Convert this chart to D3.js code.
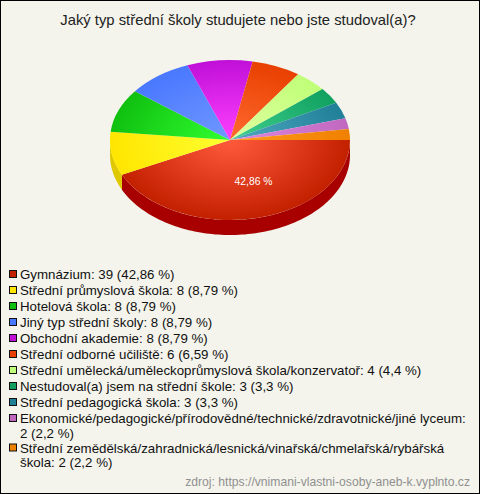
<!DOCTYPE html>
<html><head><meta charset="utf-8">
<script src="https://cdnjs.cloudflare.com/ajax/libs/d3/7.8.5/d3.min.js"></script>
<style>html,body{margin:0;padding:0;background:#f4f4ec}svg{display:block}text{font-family:"Liberation Sans",Arial,sans-serif}</style>
</head><body><div id="c"></div>
<script>
const title = "Jaký typ střední školy studujete nebo jste studoval(a)?";
const categories = ["Gymnázium","Střední průmyslová škola","Hotelová škola","Jiný typ střední školy","Obchodní akademie","Střední odborné učiliště","Střední umělecká/uměleckoprůmyslová škola/konzervatoř","Nestudoval(a) jsem na střední škole","Střední pedagogická škola","Ekonomické/pedagogické/přírodovědné/technické/zdravotnické/jiné lyceum","Střední zemědělská/zahradnická/lesnická/vinařská/chmelařská/rybářská škola"];
const values = [39,8,8,8,8,6,4,3,3,2,2];
const percents = ["42,86","8,79","8,79","8,79","8,79","6,59","4,4","3,3","3,3","2,2","2,2"];
const colors = ["#c32000","#ffe600","#10c010","#4a78ff","#c010d8","#e84000","#c0ff78","#10a060","#208098","#c068c0","#f08000"];
const lightColors = ["#ff5a3c","#ffff30","#30ff30","#7098ff","#ff40ff","#ff6a30","#e0ffa0","#40d090","#50a8c0","#e088e0","#ff9a20"];
const sideColors = ["#a80000","#e0c800","#0a900a","#3058c0","#900090","#b03000","#90c050","#087848","#106078","#904890","#c06000"];
const source = "zdroj: https://vnimani-vlastni-osoby-aneb-k.vyplnto.cz";
const legendLines = [[0],[1],[2],[3],[4],[5],[6],[7],[8],[9,"Ekonomické/pedagogické/přírodovědné/technické/zdravotnické/jiné lyceum:","2 (2,2 %)"],[10,"Střední zemědělská/zahradnická/lesnická/vinařská/chmelařská/rybářská","škola: 2 (2,2 %)"]];

const W=480,H=494,cx=230,cy=140,rx=120,ry=80,depth=15;
const svg=d3.select("#c").append("svg").attr("width",W).attr("height",H);
const defs=svg.append("defs");
svg.append("rect").attr("x",0.5).attr("y",0.5).attr("width",W-1).attr("height",H-1).attr("fill","#f4f4ec").attr("stroke","#000");
svg.append("text").attr("x",238).attr("y",25).attr("text-anchor","middle").attr("font-size",14.8).attr("fill","#222").text(title);

const pie=d3.pie().sort(null).startAngle(Math.PI/2).endAngle(Math.PI/2+2*Math.PI)(values);
const arc=d3.arc().innerRadius(0).outerRadius(1);
const px=a=>rx*Math.sin(a), py=a=>-ry*Math.cos(a);

colors.forEach((c,i)=>{
  const g=defs.append("radialGradient").attr("id","g"+i).attr("gradientUnits","userSpaceOnUse").attr("cx",0).attr("cy",0).attr("r",1);
  g.append("stop").attr("offset","0%").attr("stop-color",lightColors[i]);
  g.append("stop").attr("offset","100%").attr("stop-color",c);
});
const root=svg.append("g").attr("transform",`translate(${cx},${cy})`);
function wall(s,e){
  const a0=Math.max(s,Math.PI/2), a1=Math.min(e,3*Math.PI/2);
  if(a1<=a0) return null;
  const p=d3.path();
  const N=Math.ceil((a1-a0)*40);
  d3.range(N+1).forEach(k=>{const a=a0+(a1-a0)*k/N; k? p.lineTo(px(a),py(a)):p.moveTo(px(a),py(a));});
  for(let k=N;k>=0;k--){const a=a0+(a1-a0)*k/N; p.lineTo(px(a),py(a)+depth);}
  p.closePath(); return p.toString();
}
root.selectAll("path.w").data(pie).join("path").attr("class","w")
  .attr("d",d=>wall(d.startAngle,d.endAngle)).attr("fill",(d,i)=>sideColors[i]);
root.selectAll("g.s").data(pie).join("g").attr("class","s").attr("transform",`scale(${rx},${ry})`)
  .append("path").attr("d",arc).attr("fill",(d,i)=>`url(#g${i})`);
root.append("text").attr("x",23.5).attr("y",45).attr("text-anchor","middle").attr("font-size",10.3).attr("fill","#fff").text(percents[0]+" %");

const lg=svg.append("g");
let y=279;
legendLines.forEach(l=>{
  const i=l[0];
  lg.append("rect").attr("x",9.5).attr("y",y-8.5).attr("width",7).attr("height",7).attr("fill",colors[i]).attr("stroke","#111");
  if(l.length>1){
    lg.append("text").attr("x",20).attr("y",y).attr("font-size",13.3).attr("fill","#111").text(l[1]);
    y+=14.5;
    lg.append("text").attr("x",20).attr("y",y).attr("font-size",13.3).attr("fill","#111").text(l[2]);
    y+=15;
  } else {
    lg.append("text").attr("x",20).attr("y",y).attr("font-size",13.3).attr("fill","#111").text(`${categories[i]}: ${values[i]} (${percents[i]} %)`);
    y+=16;
  }
});
svg.append("text").attr("x",470).attr("y",486).attr("text-anchor","end").attr("font-size",12.15).attr("fill","#909090").text(source);
</script></body></html>
